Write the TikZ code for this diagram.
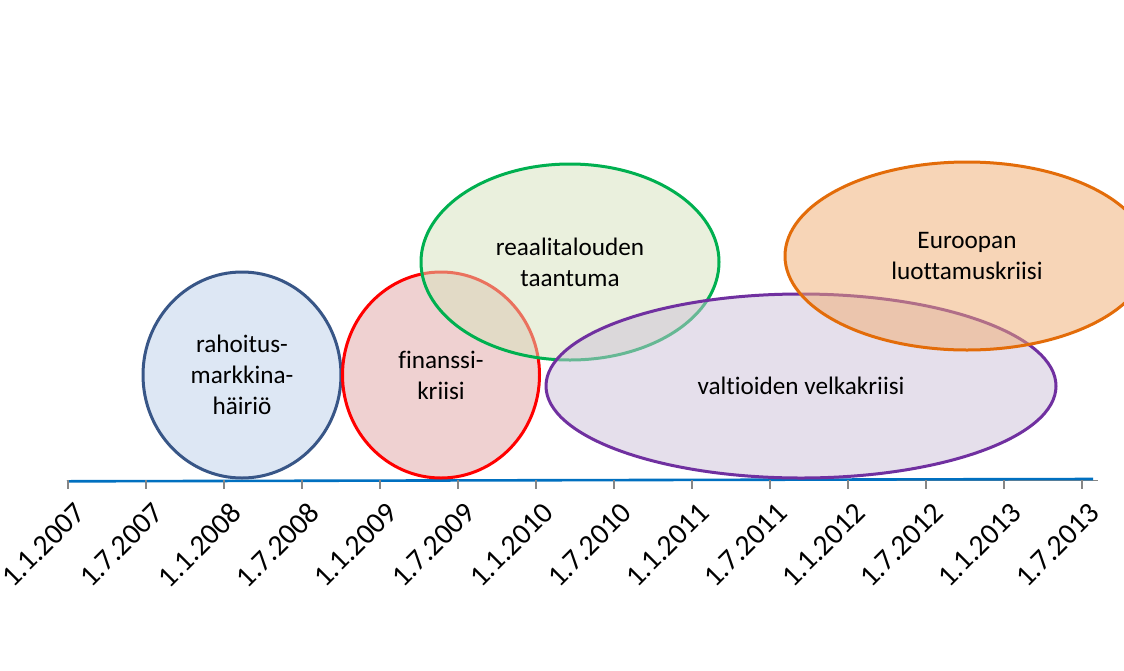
\documentclass[tikz,border=0pt]{standalone}
\usepackage{fontspec}
\setmainfont{Carlito}[Ligatures={NoCommon}]
\usetikzlibrary{shapes.geometric}
\definecolor{axisblue}{RGB}{0,112,192}
\definecolor{tickgray}{RGB}{134,134,134}
\definecolor{bluedraw}{RGB}{56,86,135}
\definecolor{bluefill}{RGB}{189,209,235}
\definecolor{reddraw}{RGB}{255,0,0}
\definecolor{redfill}{RGB}{225,165,165}
\definecolor{greendraw}{RGB}{0,176,80}
\definecolor{greenfill}{RGB}{215,227,189}
\definecolor{purpledraw}{RGB}{112,48,160}
\definecolor{purplefill}{RGB}{205,193,217}
\definecolor{orangedraw}{RGB}{227,108,9}
\definecolor{orangefill}{RGB}{241,173,113}
\begin{document}
\begin{tikzpicture}[x=1pt,y=-1pt,
  bubble/.style={ellipse, draw, line width=3pt, fill opacity=0.5, text opacity=1,
    inner sep=0pt, align=center, font=\fontsize{25.2}{31}\selectfont},
  datelabel/.style={rotate=45, anchor=east, inner sep=0pt, font=\fontsize{29.5}{34}\selectfont},
  tickmark/.style={draw=tickgray, line width=1.2pt}]
\clip (0,0) rectangle (1124,670);
\fill[white] (0,0) rectangle (1124,670);
% axis
\coordinate (axL) at (67,480);
\coordinate (axR) at (1098,480);
\coordinate (blL) at (67,481.3);
\coordinate (blR) at (1093,479);
\draw[tickgray, line width=1pt] (axL) -- (axR);
\draw[axisblue, line width=2.6pt] (blL) -- (blR);
\foreach \lab [count=\i from 0] in {1.1.2007,1.7.2007,1.1.2008,1.7.2008,1.1.2009,1.7.2009,1.1.2010,1.7.2010,1.1.2011,1.7.2011,1.1.2012,1.7.2012,1.1.2013,1.7.2013}{
  \pgfmathsetmacro{\tx}{68+78*\i}
  \coordinate (t\i) at (\tx,480);
  \coordinate (tb\i) at (\tx,489);
  \draw[tickmark] (t\i) -- (tb\i);
  \node[datelabel] (d\i) at (\tx+12.5,508) {\lab};
}
% bubbles
\node[bubble, draw=bluedraw, fill=bluefill, minimum width=198pt, minimum height=206pt] (rahoitus) at (242,375) {rahoitus-\\markkina-\\häiriö};
\node[bubble, draw=reddraw, fill=redfill, minimum width=197pt, minimum height=206pt] (finanssi) at (441,375) {finanssi-\\kriisi};
\node[bubble, draw=greendraw, fill=greenfill, minimum width=298pt, minimum height=196pt] (reaali) at (570,262) {reaalitalouden\\taantuma};
\node[bubble, draw=purpledraw, fill=purplefill, minimum width=510pt, minimum height=184pt] (valtio) at (801,386) {valtioiden velkakriisi};
\node[bubble, draw=orangedraw, fill=orangefill, minimum width=364pt, minimum height=188pt] (euroopan) at (967,256) {Euroopan\\luottamuskriisi};
\end{tikzpicture}
\end{document}
